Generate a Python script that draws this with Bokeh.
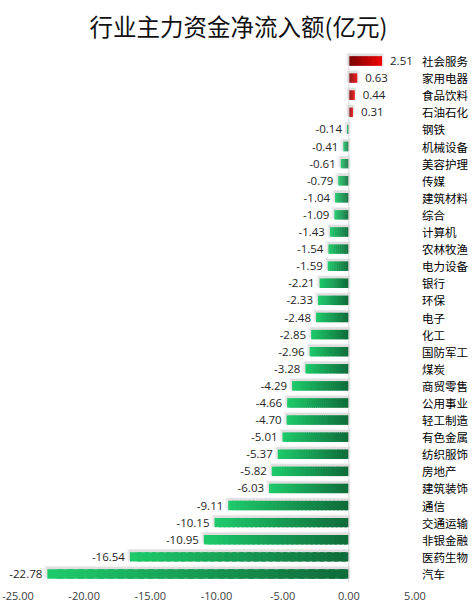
import numpy as np
from bokeh.plotting import figure
from bokeh.models import ColumnDataSource, FixedTicker, NumeralTickFormatter, Range1d, Span, LabelSet
from bokeh.core.properties import value
from bokeh.embed import file_html
from bokeh.resources import INLINE

title_text = "行业主力资金净流入额(亿元)"
categories = ["社会服务", "家用电器", "食品饮料", "石油石化", "钢铁", "机械设备", "美容护理", "传媒",
              "建筑材料", "综合", "计算机", "农林牧渔", "电力设备", "银行", "环保", "电子", "化工",
              "国防军工", "煤炭", "商贸零售", "公用事业", "轻工制造", "有色金属", "纺织服饰", "房地产",
              "建筑装饰", "通信", "交通运输", "非银金融", "医药生物", "汽车"]
values = [2.51, 0.63, 0.44, 0.31, -0.14, -0.41, -0.61, -0.79, -1.04, -1.09, -1.43, -1.54, -1.59,
          -2.21, -2.33, -2.48, -2.85, -2.96, -3.28, -4.29, -4.66, -4.70, -5.01, -5.37, -5.82, -6.03,
          -9.11, -10.15, -10.95, -16.54, -22.78]
x_ticks = [-25, -20, -15, -10, -5, 0, 5]

n = len(categories)
ypos = list(range(n))

GREEN_L = (0x1E, 0xCB, 0x6B)
GREEN_R = (0x0F, 0x6B, 0x3A)
RED_L = (0x78, 0x00, 0x00)
RED_R = (0xF0, 0x05, 0x05)

BAR_H = 0.55
NSL = 30

# frame spans the whole figure width; pixel margins around the tick span
W = 472
PAD_L_PX, PAD_R_PX = 17.5, 57.5
span_px = W - PAD_L_PX - PAD_R_PX
scale = span_px / (x_ticks[-1] - x_ticks[0])
x_start = x_ticks[0] - PAD_L_PX / scale
x_end = x_ticks[-1] + PAD_R_PX / scale

p = figure(width=W, height=602, output_backend="svg", toolbar_location=None,
           x_range=Range1d(x_start, x_end), y_range=Range1d(n - 0.5, -0.5),
           y_axis_location=None,
           min_border_left=0, min_border_right=0, min_border_bottom=0, min_border_top=50)
p.title.text = title_text
p.title.align = "left"
p.title.offset = 89
p.title.vertical_align = "top"
p.title.text_font = "Noto Sans CJK SC"
p.title.text_font_size = "23.5px"
p.title.text_font_style = "normal"
p.title.text_color = "#111111"
p.title.standoff = 16
p.outline_line_color = None
p.xgrid.visible = False
p.ygrid.visible = False
p.background_fill_color = "white"

# shadows
for dx, dh, a in [(0.26, 0.18, 0.07), (0.15, 0.11, 0.09), (0.06, 0.05, 0.11)]:
    sl = [min(v, 0) - dx for v in values]
    sr = [max(v, 0) + dx * 0.6 for v in values]
    p.hbar(y=[y - 0.11 for y in ypos], left=sl, right=sr, height=BAR_H + dh,
           fill_color="#7f7f7f", fill_alpha=a, line_color=None)

# gradient bars built from slices
xs_l, xs_r, ys, cols = [], [], [], []
for y, v in zip(ypos, values):
    lo, hi = min(v, 0.0), max(v, 0.0)
    c0, c1 = (GREEN_L, GREEN_R) if v < 0 else (RED_L, RED_R)
    edges = np.linspace(lo, hi, NSL + 1)
    step = (hi - lo) / NSL
    for j in range(NSL):
        t = (j + 0.5) / NSL
        c = tuple(int(round(c0[m] + (c1[m] - c0[m]) * t)) for m in range(3))
        xs_l.append(edges[j])
        xs_r.append(edges[j + 1] + (step * 0.6 if j < NSL - 1 else 0.0))
        ys.append(y)
        cols.append("#%02x%02x%02x" % c)
src = ColumnDataSource(dict(left=xs_l, right=xs_r, y=ys, color=cols))
p.hbar(y="y", left="left", right="right", height=BAR_H, fill_color="color",
       line_color=None, source=src)

# zero line
p.add_layout(Span(location=0, dimension="height", line_color="#d9d9d9", line_width=1))

# value labels
neg_src = ColumnDataSource(dict(x=[v for v in values if v < 0],
                                y=[y for y, v in zip(ypos, values) if v < 0],
                                t=[f"{v:.2f}" for v in values if v < 0]))
pos_src = ColumnDataSource(dict(x=[v for v in values if v >= 0],
                                y=[y for y, v in zip(ypos, values) if v >= 0],
                                t=[f"{v:.2f}" for v in values if v >= 0]))
p.add_layout(LabelSet(x="x", y="y", text="t", source=neg_src, text_align="right",
                      text_baseline="middle", x_offset=-5, text_font=value("Open Sans"),
                      text_font_size=value("11.5px"), text_color=value("#262626")))
p.add_layout(LabelSet(x="x", y="y", text="t", source=pos_src, text_align="left",
                      text_baseline="middle", x_offset=8, text_font=value("Open Sans"),
                      text_font_size=value("11.5px"), text_color=value("#262626")))

# category labels at the right edge of the value scale
cat_src = ColumnDataSource(dict(x=[x_ticks[-1]] * n, y=ypos, t=categories))
p.add_layout(LabelSet(x="x", y="y", text="t", source=cat_src, text_align="left",
                      text_baseline="middle", x_offset=7, text_font=value("Noto Sans CJK SC"),
                      text_font_size=value("11.5px"), text_color=value("#000000")))

# x axis
xa = p.xaxis[0]
xa.ticker = FixedTicker(ticks=x_ticks)
xa.formatter = NumeralTickFormatter(format="0.00")
xa.axis_line_color = None
xa.major_tick_line_color = None
xa.minor_tick_line_color = None
xa.major_tick_out = 0
xa.major_tick_in = 0
xa.minor_tick_out = 0
xa.axis_label_standoff = 0
xa.major_label_standoff = 9
xa.major_label_text_font = "Open Sans"
xa.major_label_text_font_size = "11px"
xa.major_label_text_color = "#404040"

open("out.html", "w").write(file_html(p, INLINE))
